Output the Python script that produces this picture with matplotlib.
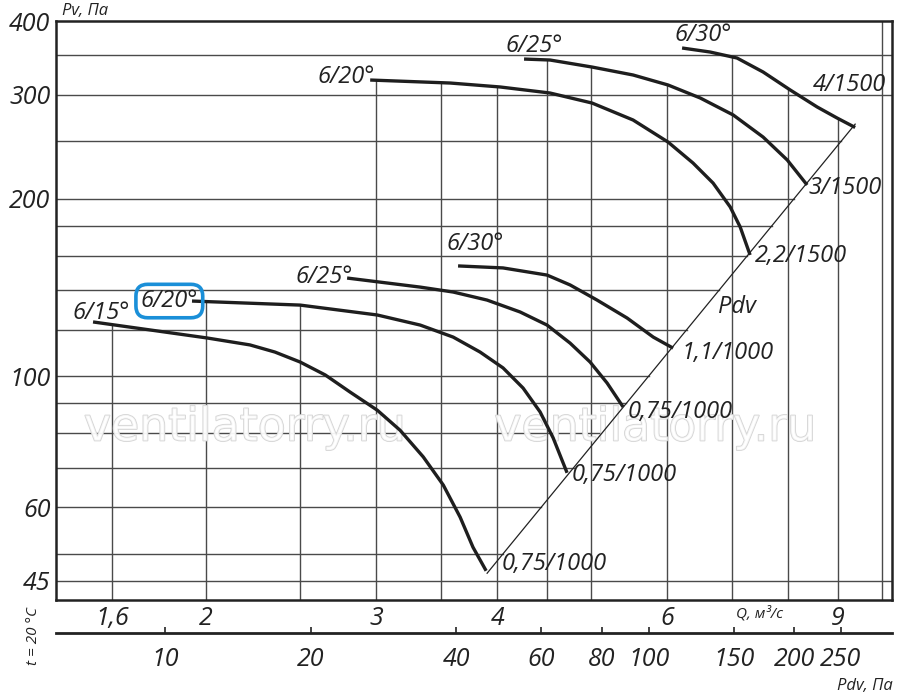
import numpy as np
import matplotlib
matplotlib.use('Agg')
import matplotlib.pyplot as plt
import matplotlib.patheffects as pe
from matplotlib.ticker import NullLocator

plt.rcParams['font.family'] = ['Open Sans', 'Noto Sans', 'DejaVu Sans']
plt.rcParams['font.style'] = 'italic'

# кривые вентилятора: Q, м3/с и Pv, Па
q_a = [1.528, 1.750, 2.005, 2.220, 2.356, 2.502, 2.656, 2.818, 3.006, 3.174,
       3.354, 3.518, 3.662, 3.776, 3.896]
pv_a = [123.6, 119.8, 116.1, 113.0, 109.9, 105.7, 100.5, 94.0, 87.6, 81.0,
        73.0, 65.4, 57.7, 51.3, 46.8]
q_b = [1.934, 2.502, 3.006, 3.330, 3.602, 3.840, 4.056, 4.254, 4.430, 4.570, 4.724]
pv_b = [134.1, 132.0, 127.0, 122.1, 116.5, 109.9, 103.3, 95.5, 87.0, 78.6, 68.6]
q_c = [2.798, 3.330, 3.602, 3.905, 4.224, 4.504, 4.758, 4.990, 5.196, 5.398]
pv_c = [146.7, 141.6, 138.9, 134.6, 128.5, 122.1, 113.8, 105.7, 97.4, 88.7]
q_d = [3.644, 4.056, 4.504, 4.758, 5.074, 5.450, 5.800, 6.080]
pv_d = [153.8, 152.6, 148.4, 142.8, 134.6, 125.5, 116.5, 111.6]
q_e = [2.956, 3.577, 4.028, 4.536, 5.014, 5.528, 6.008, 6.376, 6.688, 6.966,
       7.134, 7.304]
pv_e = [317.7, 314.0, 309.2, 302.0, 290.4, 271.8, 249.4, 229.8, 212.5, 193.6,
        179.0, 160.5]
q_f = [4.264, 4.536, 5.014, 5.528, 6.008, 6.486, 7.016, 7.534, 7.980, 8.366]
pv_f = [344.8, 343.5, 334.2, 324.0, 311.6, 296.2, 277.2, 254.3, 232.5, 210.9]
q_g = [6.212, 6.640, 7.080, 7.534, 8.036, 8.568, 8.986, 9.380]
pv_g = [360.0, 354.4, 346.2, 327.8, 305.6, 286.0, 273.9, 264.0]

start_labels = ['6/15°', '6/20°', '6/25°', '6/30°', '6/20°', '6/25°', '6/30°']
end_labels = ['0,75/1000', '0,75/1000', '0,75/1000', '1,1/1000',
              '2,2/1500', '3/1500', '4/1500']

# линия динамического давления Pdv = k*Q^2
k_pdv = 3.04
q_pdv = [3.905, 9.38]

y_ticks = [45, 60, 100, 200, 300, 400]
x_ticks = [1.6, 2, 3, 4, 6, 9]
x_tick_labels = ['1,6', '2', '3', '4', '6', '9']
pdv_ticks = [10, 20, 40, 60, 80, 100, 150, 200, 250]
y_grid = [45, 50, 60, 70, 80, 90, 100, 120, 140, 160, 180, 200, 250, 300, 350]
x_grid = [1.6, 2, 2.5, 3, 3.5, 4, 4.5, 5, 6, 7, 8, 9, 10]

curves = [(q_a, pv_a), (q_b, pv_b), (q_c, pv_c), (q_d, pv_d),
          (q_e, pv_e), (q_f, pv_f), (q_g, pv_g)]

# смещения подписей в пикселях
start_off = [(37, 3), (6, -6), (6, -5), (46, 16), (5, -3), (39, 7), (50, 7)]
end_off = [(15, 7), (5, -2), (5, -5), (8, -5), (5, -1), (1, -3), (-42, 42)]

XMIN, XMAX = 1.399, 10.24
YMIN, YMAX = 41.76, 400

fig = plt.figure(figsize=(9, 6.95), dpi=100)
ax = fig.add_axes([56 / 900, 95 / 695, 836 / 900, 579 / 695])
ax.set_xscale('log')
ax.set_yscale('log')
ax.set_xlim(XMIN, XMAX)
ax.set_ylim(YMIN, YMAX)

grid_c = '#4a4a4a'

# вертикальные линии сетки - только под верхними кривыми
for xg in x_grid:
    top = None
    for q, pv in curves:
        if q[0] <= xg <= q[-1]:
            v = 10 ** np.interp(np.log10(xg), np.log10(q), np.log10(pv))
            top = v if top is None else max(top, v)
    if top is None:
        top = YMAX
    ax.plot([xg, xg], [YMIN, top], color=grid_c, lw=1.0, zorder=1)

# горизонтальные линии сетки - до линии Pdv
pv_lo = k_pdv * q_pdv[0] ** 2
pv_hi = k_pdv * q_pdv[1] ** 2
for yg in y_grid:
    right = XMAX
    if pv_lo <= yg <= pv_hi:
        right = np.sqrt(yg / k_pdv)
    ax.plot([XMIN, right], [yg, yg], color=grid_c, lw=1.0, zorder=1)

# водяной знак
for xf in [0.226, 0.717]:
    ax.text(xf, 0.297, 'ventilatorry.ru', transform=ax.transAxes,
            ha='center', va='center', fontsize=33, family='DejaVu Sans',
            style='normal', color=(1, 1, 1, 0.75), zorder=2,
            path_effects=[pe.withStroke(linewidth=1.2, foreground='#d4d4d4')])

# линия Pdv
qq = np.array(q_pdv)
ax.plot(qq, k_pdv * qq ** 2, color='#222222', lw=0.9, zorder=3)
ax.text(0.8146, 0.506, 'Pdv', transform=ax.transAxes, ha='center',
        va='center', fontsize=17, color='#222222')

# кривые
for i, (q, pv) in enumerate(curves):
    ax.plot(q, pv, color='#1e1e1e', lw=2.4, solid_capstyle='butt',
            solid_joinstyle='round', zorder=4)
    t = ax.annotate(start_labels[i], xy=(q[0], pv[0]), xytext=start_off[i],
                    textcoords='offset pixels', ha='right', va='baseline',
                    fontsize=17, color='#222222', zorder=5)
    if i == 1:
        t.set_bbox(dict(boxstyle='round,pad=0.2,rounding_size=0.5',
                        fc='none', ec='#1a8fd8', lw=2.6))
    ax.annotate(end_labels[i], xy=(q[-1], pv[-1]), xytext=end_off[i],
                textcoords='offset pixels', ha='left', va='center',
                fontsize=17, color='#222222', zorder=5)

for s in ax.spines.values():
    s.set_linewidth(1.8)
    s.set_color('#222222')

ax.xaxis.set_minor_locator(NullLocator())
ax.yaxis.set_minor_locator(NullLocator())
ax.set_xticks(x_ticks, labels=x_tick_labels)
ax.set_yticks(y_ticks, labels=[str(v) for v in y_ticks])
ax.tick_params(axis='x', length=0, pad=4, labelsize=18, labelcolor='#222222')
ax.tick_params(axis='y', length=0, pad=4, labelsize=18, labelcolor='#222222')

ax.text(0.842, -0.024, 'Q, м³/с', transform=ax.transAxes, ha='center',
        va='center', fontsize=11, color='#222222')
ax.text(0.007, 1.004, 'Pv, Па', transform=ax.transAxes, ha='left',
        va='bottom', fontsize=12, color='#222222')

# вторая шкала - динамическое давление
sec = ax.secondary_xaxis(-0.057, functions=(lambda q: k_pdv * q ** 2,
                                            lambda p: np.sqrt(np.maximum(p, 1e-9) / k_pdv)))
sec.set_xticks(pdv_ticks, labels=[str(v) for v in pdv_ticks])
sec.xaxis.set_minor_locator(NullLocator())
sec.tick_params(axis='x', direction='in', length=4, width=1.2, pad=10,
                labelsize=18, labelcolor='#222222', color='#222222')
sec.spines['bottom'].set_linewidth(2)
sec.spines['bottom'].set_color('#222222')

fig.text(0.0367, 0.085, 't = 20 °C', rotation=90, ha='center', va='center',
         fontsize=11, color='#222222')
fig.text(0.992, 0.013, 'Pdv, Па', ha='right', va='center', fontsize=12,
         color='#222222')

fig.savefig('out.png', dpi=100)
